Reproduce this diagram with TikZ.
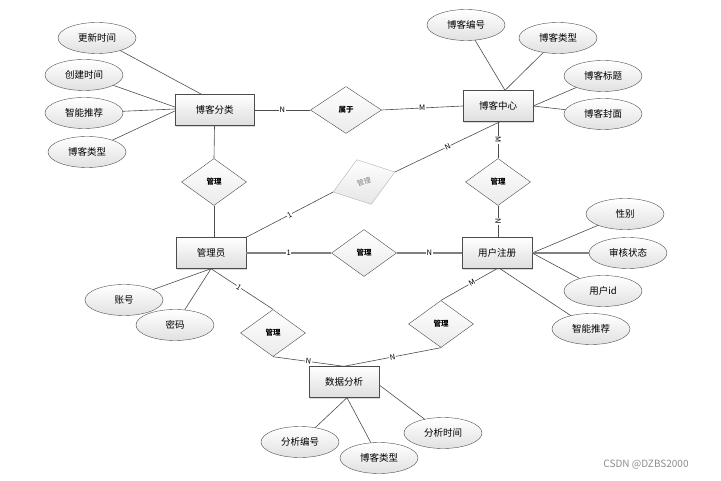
\documentclass[tikz,border=0pt]{standalone}
\usepackage{fontspec}
\setmainfont{Noto Sans CJK SC}
\usetikzlibrary{shapes.geometric,shadows}
\begin{document}
\begin{tikzpicture}[x=1pt,y=-1pt,
  ent/.style={draw=black!70, rectangle, minimum width=70pt, minimum height=31pt, inner sep=1pt,
    top color=white, bottom color=black!13,
    drop shadow={shadow xshift=1.3pt,shadow yshift=-1.3pt,fill=black!30},
    font=\fontsize{9.5}{10}\selectfont},
  attr/.style={draw=black!70, ellipse, minimum width=78pt, minimum height=31pt, inner sep=0pt,
    top color=white, bottom color=black!12, font=\fontsize{9.5}{10}\selectfont},
  rel/.style={draw=black!70, diamond, minimum width=65pt, minimum height=47pt, inner sep=0pt,
    top color=white, bottom color=black!8, font=\fontsize{7.5}{8}\selectfont\bfseries},
  grel/.style={rel, draw=black!30, top color=white, bottom color=black!10, text=black!50, font=\fontsize{7}{7}\selectfont},
  ln/.style={draw=black!70, line width=0.6pt},
  thk/.style={draw=black!50, line width=1.1pt},
  lab/.style={fill=white, inner sep=0.6pt, font=\fontsize{7.5}{8}\selectfont},
  wm/.style={text=black!45, font=\fontsize{10}{10}\selectfont}]
\useasboundingbox (0,0) rectangle (721,481);

% entities
\node[ent, minimum width=79pt] (fl) at (214.5,110) {博客分类};
\node[ent] (zx) at (498,106) {博客中心};
\node[ent] (gly) at (211,253) {管理员};
\node[ent] (yh) at (497,253) {用户注册};
\node[ent] (sj) at (344,382) {数据分析};

% relations
\node[rel, minimum width=71pt] (sy) at (346,110) {属于};
\node[rel] (gl1) at (214,182) {管理};
\node[grel, rotate=18] (gl2) at (364,182) {管理};
\node[rel] (gl3) at (364,253) {管理};
\node[rel] (gl4) at (498,182) {管理};
\node[rel] (gl5) at (273,333) {管理};
\node[rel] (gl6) at (441,324) {管理};

% attributes
\node[attr] (bh) at (466,25) {博客编号};
\node[attr] (lx1) at (558,38) {博客类型};
\node[attr] (bt) at (603,76) {博客标题};
\node[attr] (fm) at (603,114) {博客封面};
\node[attr] (gx) at (97,38) {更新时间};
\node[attr] (cj) at (84,75) {创建时间};
\node[attr] (zn1) at (84,113) {智能推荐};
\node[attr] (lx2) at (87,152) {博客类型};
\node[attr] (xb) at (625,214) {性别};
\node[attr] (sh) at (628,253) {审核状态};
\node[attr] (uid) at (603,291) {用户id};
\node[attr] (zn2) at (591,329) {智能推荐};
\node[attr] (zh) at (124,300) {账号};
\node[attr] (mm) at (175,325) {密码};
\node[attr] (fb) at (300,442) {分析编号};
\node[attr] (lx3) at (379,458) {博客类型};
\node[attr] (fs) at (443,433) {分析时间};

% attribute lines
\draw[ln] (gx) -- ([xshift=-13pt]fl.north);
\draw[ln] (cj) -- ([yshift=3pt]fl.west);
\draw[ln] (zn1) -- ([yshift=1pt]fl.west);
\draw[ln] (lx2) -- ([yshift=-1pt]fl.west);
\draw[ln] (bh) -- ([xshift=7pt]zx.north);
\draw[ln] (lx1) -- ([xshift=7pt]zx.north);
\draw[ln] (bt) -- (zx.east);
\draw[ln] (fm) -- (zx.east);
\draw[ln] (xb) -- (yh.east);
\draw[thk] (sh) -- (yh.east);
\draw[ln] (uid) -- (yh.east);
\draw[ln] ([xshift=3pt]yh.south) -- (zn2);
\draw[ln] (zh) -- (gly.south);
\draw[ln] (mm) -- (gly.south);
\draw[ln] ([xshift=3pt]sj.south) -- (fb);
\draw[ln] ([xshift=3pt]sj.south) -- (lx3);
\draw[ln] ([yshift=-3pt]sj.east) -- (fs);

% relationship lines
\draw[ln] (fl.east) -- node[lab, pos=0.5] {N} (sy.west);
\draw[ln] (sy.east) -- node[lab, pos=0.5] {M} (zx.west);
\draw[ln] (fl.south) -- (gl1.north);
\draw[ln] (gl1.south) -- (gl1.south |- gly.north);
\draw[ln] (gly.north east) -- node[lab, sloped] {1} (gl2.west);
\draw[ln] (gl2.east) -- node[lab, sloped] {N} ([xshift=2pt]zx.south);
\draw[ln] (zx.south) -- node[lab, sloped] {M} (gl4.north);
\draw[ln] (gl4.south) -- node[lab, sloped] {N} (gl4.south |- yh.north);
\draw[thk] (gly.east) -- node[lab, text=black] {1} (gl3.west);
\draw[thk] (gl3.east) -- node[lab, text=black] {N} (yh.west);
\draw[ln] (gly.south) -- node[lab, sloped, pos=0.45] {1} (gl5.north);
\draw[ln] (gl5.south) -- node[lab, sloped, pos=0.5] {N} (sj.north);
\draw[ln] (yh.south) -- node[lab, sloped, pos=0.45] {M} (gl6.north);
\draw[ln] (gl6.south) -- node[lab, sloped, pos=0.5] {N} (sj.north);

\node[wm] (wmk) at (646,465) {CSDN @DZBS2000};
\end{tikzpicture}
\end{document}
